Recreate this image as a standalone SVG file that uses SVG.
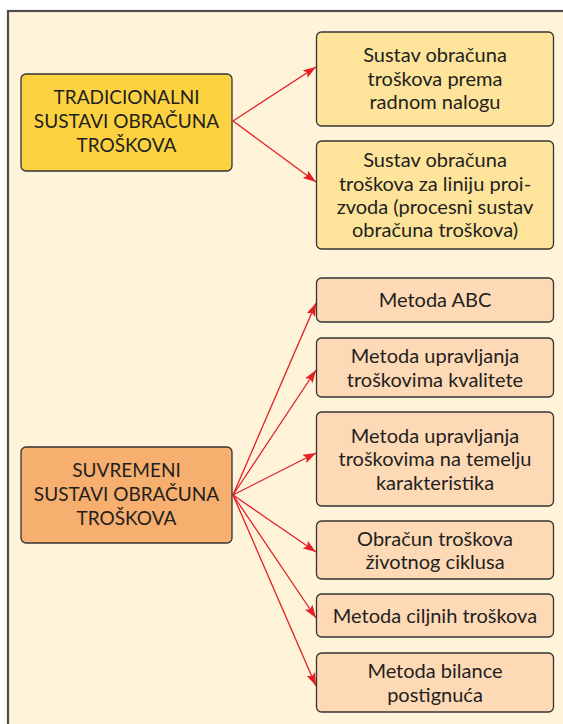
<svg xmlns="http://www.w3.org/2000/svg" width="563" height="724" viewBox="0 0 563 724">
<defs>
<style>
.bg{fill:#FFF4D9;stroke:#4D4D4D;stroke-width:2.2}
.box{stroke:#333333;stroke-width:1.3}
.gold{fill:#FDD240}
.ltgold{fill:#FEE49B}
.orange{fill:#F6AF6F}
.peach{fill:#FDD9B6}
text{font-family:Lato,"Open Sans",sans-serif;font-size:20px;fill:#231F20;text-anchor:middle}
.caps{font-size:19px}
.conn line{stroke:#E31E24;stroke-width:1.3;fill:none}
</style>
<marker id="ah" markerWidth="14" markerHeight="10" refX="13" refY="5" orient="auto" markerUnits="userSpaceOnUse">
<path d="M0,0.5 L13,5 L0,9.5 L2.5,5 Z" fill="#E31E24"/>
</marker>
</defs>
<rect class="bg" x="8" y="11" width="600" height="800"/>
<g class="conn" id="connectors">
<line x1="233" y1="121" x2="316" y2="67" marker-end="url(#ah)"/>
<line x1="233" y1="121" x2="316" y2="182" marker-end="url(#ah)"/>
<line x1="233" y1="495" x2="316" y2="303" marker-end="url(#ah)"/>
<line x1="233" y1="495" x2="316" y2="370" marker-end="url(#ah)"/>
<line x1="233" y1="495" x2="316" y2="453" marker-end="url(#ah)"/>
<line x1="233" y1="495" x2="316" y2="552" marker-end="url(#ah)"/>
<line x1="233" y1="495" x2="316" y2="618" marker-end="url(#ah)"/>
<line x1="233" y1="495" x2="316" y2="686" marker-end="url(#ah)"/>
</g>
<g id="tradicionalni" class="caps">
<rect class="box gold" x="21" y="74" width="211" height="97" rx="5"/>
<text class="caps" x="126.5" y="104">TRADICIONALNI</text>
<text class="caps" x="126.5" y="128">SUSTAVI OBRAČUNA</text>
<text class="caps" x="126.5" y="152">TROŠKOVA</text>
</g>
<g id="radni-nalog">
<rect class="box ltgold" x="316.5" y="32" width="237" height="94" rx="5"/>
<text x="435" y="62">Sustav obračuna</text>
<text x="435" y="85.5">troškova prema</text>
<text x="435" y="109">radnom nalogu</text>
</g>
<g id="linija-proizvoda">
<rect class="box ltgold" x="316.5" y="141" width="237" height="108" rx="5"/>
<text x="435" y="167">Sustav obračuna</text>
<text x="435" y="190.5">troškova za liniju proi-</text>
<text x="435" y="214">zvoda (procesni sustav</text>
<text x="435" y="237">obračuna troškova)</text>
</g>
<g id="suvremeni">
<rect class="box orange" x="21" y="447" width="211" height="96" rx="5"/>
<text class="caps" x="126.5" y="477">SUVREMENI</text>
<text class="caps" x="126.5" y="501">SUSTAVI OBRAČUNA</text>
<text class="caps" x="126.5" y="525">TROŠKOVA</text>
</g>
<g id="abc">
<rect class="box peach" x="316.5" y="278" width="237" height="44" rx="5"/>
<text x="435" y="307">Metoda ABC</text>
</g>
<g id="kvaliteta">
<rect class="box peach" x="316.5" y="338" width="237" height="59" rx="5"/>
<text x="435" y="363">Metoda upravljanja</text>
<text x="435" y="386.5">troškovima kvalitete</text>
</g>
<g id="karakteristike">
<rect class="box peach" x="316.5" y="412" width="237" height="94" rx="5"/>
<text x="435" y="442.5">Metoda upravljanja</text>
<text x="435" y="466">troškovima na temelju</text>
<text x="435" y="489.5">karakteristika</text>
</g>
<g id="zivotni-ciklus">
<rect class="box peach" x="316.5" y="521" width="237" height="58" rx="5"/>
<text x="435" y="545.5">Obračun troškova</text>
<text x="435" y="569">životnog ciklusa</text>
</g>
<g id="ciljni">
<rect class="box peach" x="316.5" y="594" width="237" height="43" rx="5"/>
<text x="435" y="622.5">Metoda ciljnih troškova</text>
</g>
<g id="bilanca">
<rect class="box peach" x="316.5" y="653" width="237" height="59" rx="5"/>
<text x="435" y="678">Metoda bilance</text>
<text x="435" y="701.5">postignuća</text>
</g>
</svg>
